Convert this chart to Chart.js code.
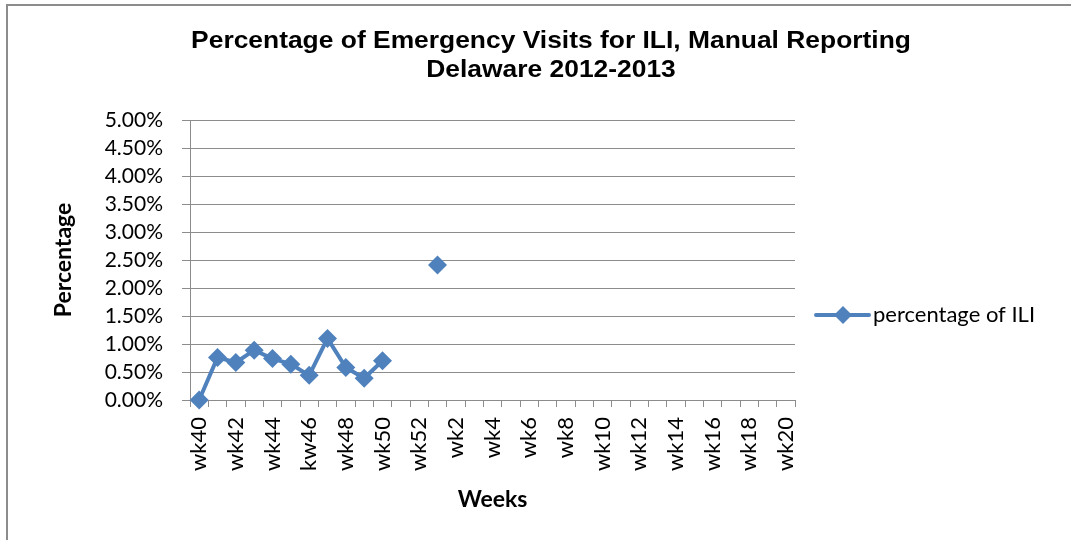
<!DOCTYPE html>
<html lang="en">
<head>
  <meta charset="UTF-8">
  <title>Percentage of Emergency Visits for ILI</title>
  <script src="https://cdn.jsdelivr.net/npm/chart.js"></script>
  <style>
    html, body {
      margin: 0;
      padding: 0;
      background: #fff;
    }
    .frame {
      position: absolute;
      left: 6px;
      top: 4px;
      width: 1071px;
      height: 540px;
      border-top: 2px solid #8c8c8c;
      border-left: 2px solid #8c8c8c;
    }
    .chart-container {
      position: absolute;
      left: 0;
      top: 0;
      width: 1071px;
      height: 540px;
    }
  </style>
</head>
<body>
  <div class="frame"></div>
  <div class="chart-container">
    <canvas id="iliChart" width="1071" height="540"></canvas>
  </div>

  <script>
    // weeks of the 2012-2013 season, wk40 .. wk52 then wk1 .. wk20
    const weeks = [
      'wk40', 'wk41', 'wk42', 'wk43', 'wk44', 'wk45', 'kw46', 'wk47', 'wk48', 'wk49', 'wk50', 'wk51', 'wk52',
      'wk1', 'wk2', 'wk3', 'wk4', 'wk5', 'wk6', 'wk7', 'wk8', 'wk9', 'wk10',
      'wk11', 'wk12', 'wk13', 'wk14', 'wk15', 'wk16', 'wk17', 'wk18', 'wk19', 'wk20'
    ];

    // percent of visits (null = not reported)
    const percentILI = [
      0.00, 0.76, 0.67, 0.89, 0.74, 0.64, 0.44, 1.10, 0.58, 0.39, 0.70, null, null,
      2.41, null, null, null, null, null, null, null, null, null,
      null, null, null, null, null, null, null, null, null, null
    ];

    const yTicks = [0, 0.5, 1, 1.5, 2, 2.5, 3, 3.5, 4, 4.5, 5];

    const BLUE = '#4f81bd';
    const GRID = '#8c8c8c';
    const LABEL_FONT = 'Lato, "Open Sans", sans-serif';

    // title and legend drawn by hand to sit where the original has them
    const decorations = {
      id: 'decorations',
      afterDraw(chart) {
        const ctx = chart.ctx;
        ctx.save();
        ctx.fillStyle = '#000';
        ctx.textAlign = 'center';
        ctx.textBaseline = 'middle';
        ctx.font = 'bold 24px "Liberation Sans", Arial, sans-serif';
        ctx.save();
        ctx.translate(551, 0);
        ctx.scale(1.1, 1);
        ctx.fillText('Percentage of Emergency Visits for ILI, Manual Reporting', 0, 41);
        ctx.fillText('Delaware 2012-2013', 0, 70);
        ctx.restore();

        // legend entry: line with diamond marker
        const ly = 315;
        ctx.strokeStyle = BLUE;
        ctx.lineWidth = 4;
        ctx.lineCap = 'round';
        ctx.beginPath();
        ctx.moveTo(816, ly);
        ctx.lineTo(869, ly);
        ctx.stroke();
        ctx.fillStyle = BLUE;
        ctx.beginPath();
        ctx.moveTo(843, ly - 9);
        ctx.lineTo(852, ly);
        ctx.lineTo(843, ly + 9);
        ctx.lineTo(834, ly);
        ctx.closePath();
        ctx.fill();
        ctx.fillStyle = '#000';
        ctx.textAlign = 'left';
        ctx.font = '22px ' + LABEL_FONT;
        ctx.fillText('percentage of ILI', 873, ly);
        ctx.restore();
      }
    };

    new Chart(document.getElementById('iliChart'), {
      type: 'line',
      data: {
        labels: weeks,
        datasets: [{
          label: 'percentage of ILI',
          data: percentILI,
          borderColor: BLUE,
          backgroundColor: BLUE,
          borderWidth: 4,
          pointStyle: 'rectRot',
          pointRadius: 9.5,
          pointHoverRadius: 9.5,
          pointBorderWidth: 0,
          spanGaps: false,
          tension: 0,
          fill: false,
          clip: false
        }]
      },
      options: {
        responsive: false,
        animation: false,
        events: [],
        layout: {
          padding: { left: 50, right: 276, top: 120, bottom: 25 }
        },
        plugins: {
          legend: { display: false },
          title: { display: false },
          tooltip: { enabled: false }
        },
        scales: {
          y: {
            min: 0,
            max: 5,
            afterBuildTicks(scale) {
              scale.ticks = yTicks.map(v => ({ value: v }));
            },
            afterFit(scale) {
              scale.width = 140;
            },
            ticks: {
              color: '#000',
              autoSkip: false,
              padding: 19,
              font: { family: LABEL_FONT, size: 21 },
              callback: v => v.toFixed(2) + '%'
            },
            grid: {
              color: GRID,
              lineWidth: 1,
              tickLength: 8
            },
            border: { color: GRID, width: 1 },
            title: {
              display: true,
              text: 'Percentage',
              color: '#000',
              padding: { top: 0, bottom: 0 },
              font: { family: LABEL_FONT, size: 23, weight: 'bold' }
            }
          },
          x: {
            offset: true,
            afterFit(scale) {
              scale.height = 115;
            },
            ticks: {
              color: '#000',
              autoSkip: false,
              minRotation: 90,
              maxRotation: 90,
              padding: 10,
              font: { family: LABEL_FONT, size: 22 },
              callback: function (val, i) {
                return i % 2 === 0 ? this.getLabelForValue(val) : '';
              }
            },
            grid: {
              offset: true,
              drawOnChartArea: false,
              color: GRID,
              tickLength: 7
            },
            border: { color: GRID, width: 1 },
            title: {
              display: true,
              text: 'Weeks',
              color: '#000',
              padding: { top: 0, bottom: 2 },
              font: { family: LABEL_FONT, size: 23, weight: 'bold' }
            }
          }
        }
      },
      plugins: [decorations]
    });
  </script>
</body>
</html>
